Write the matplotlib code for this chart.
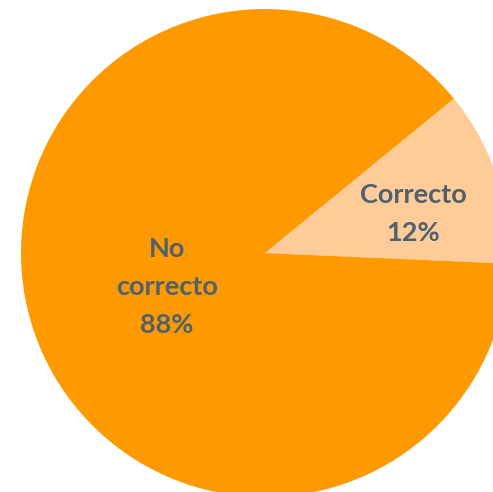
import matplotlib
matplotlib.use("Agg")
import matplotlib.pyplot as plt

categories = ["Correcto", "No\ncorrecto"]
values = [11.6, 88.4]
colors = ["#FFCC99", "#FF9900"]

W, H = 493, 492
fig = plt.figure(figsize=(W / 100, H / 100), dpi=100)
cx, cy, R = 265, 253, 244
ax = fig.add_axes([(cx - R) / W, (H - cy - R) / H, 2 * R / W, 2 * R / H])
ax.pie(values, colors=colors, startangle=-2.5, counterclock=True,
       radius=1, wedgeprops=dict(linewidth=0))
ax.set_xlim(-1, 1)
ax.set_ylim(-1, 1)
ax.set_aspect("equal", adjustable="datalim")
ax.axis("off")

total = sum(values)
label_pos = [(0.607, 0.16), (-0.402, -0.139)]
txtcolor = "#50606C"
for cat, v, (x, y) in zip(categories, values, label_pos):
    ax.text(x, y, f"{cat}\n{v / total * 100:.0f}%", ha="center", va="center",
            fontsize=19.5, fontweight="bold", family=["Lato", "DejaVu Sans"],
            color=txtcolor, linespacing=1.68)

fig.savefig("out.png", dpi=100)
